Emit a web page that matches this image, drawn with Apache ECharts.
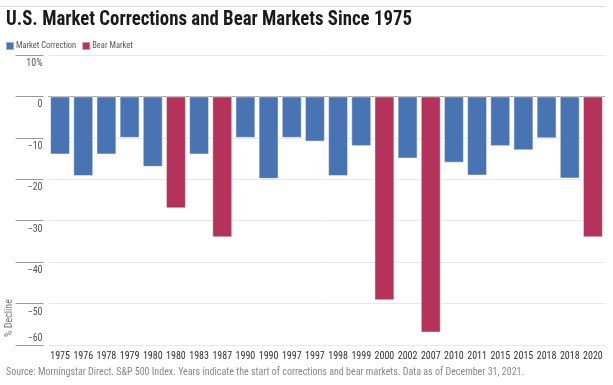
<!DOCTYPE html>
<html>
<head>
<meta charset="utf-8">
<script src="https://cdn.jsdelivr.net/npm/echarts@6/dist/echarts.min.js"></script>
<style>
html,body{margin:0;padding:0;background:#fff;}
#c{width:613px;height:385px;}
</style>
</head>
<body>
<div id="c"></div>
<script>
const categories = ['1975','1976','1978','1979','1980','1980','1983','1987','1990','1990','1997','1997','1998','1999','2000','2002','2007','2010','2011','2015','2015','2018','2018','2020'];
const correctionValues = [-14.0, -19.2, -14.0, -10.0, -17.0, null, -14.0, null, -10.0, -19.9, -10.0, -10.9, -19.2, -12.0, null, -15.0, null, -16.0, -19.1, -12.0, -13.0, -10.1, -19.8, null];
const bearValues = [null, null, null, null, null, -27.0, null, -34.0, null, null, null, null, null, null, -49.2, null, -57.0, null, null, null, null, null, null, -34.0];
const yTicks = [10, 0, -10, -20, -30, -40, -50, -60];
const seriesNames = ['Market Correction', 'Bear Market'];

const FONT = '"Roboto Condensed", "Liberation Sans", sans-serif';
const chart = echarts.init(document.getElementById('c'), null, {renderer: 'canvas'});

function fmtTick(v) {
  let s;
  if (v === 10) s = '10%';
  else if (v < 0) s = '\u2212' + Math.abs(v);
  else s = String(v);
  return v === yTicks[yTicks.length - 1] ? '{up|' + s + '}' : '{dn|' + s + '}';
}

chart.setOption({
  animation: false,
  backgroundColor: '#fff',
  legend: {
    left: 5, top: 41, padding: 0,
    itemWidth: 8, itemHeight: 8, itemGap: 5,
    icon: 'rect',
    textStyle: {fontFamily: FONT, fontSize: 8.5, color: '#555', padding: [0, 0, 0, -3]},
    data: seriesNames
  },
  grid: {left: 48.5, right: 8.5, top: 55, bottom: 40},
  xAxis: {
    type: 'category',
    data: categories,
    axisLine: {lineStyle: {color: '#aaa', width: 1}},
    axisTick: {show: false},
    axisLabel: {interval: 0, fontFamily: FONT, fontSize: 10, color: '#333', margin: 6}
  },
  yAxis: {
    type: 'value',
    min: -60, max: 10, interval: 10,
    offset: 5,
    axisLine: {show: false},
    axisTick: {show: true, length: 28, lineStyle: {color: '#999', width: 1}},
    splitLine: {lineStyle: {color: '#e8e8e8', width: 1}},
    axisLabel: {
      margin: 1,
      formatter: fmtTick,
      fontFamily: FONT, fontSize: 10, color: '#555',
      rich: {
        dn: {fontFamily: FONT, fontSize: 10, color: '#555', padding: [17, 0, 0, 0]},
        up: {fontFamily: FONT, fontSize: 10, color: '#555', padding: [0, 0, 14, 0]}
      }
    }
  },
  series: [
    {
      name: seriesNames[0], type: 'bar', stack: 'all',
      data: correctionValues,
      barCategoryGap: '14%',
      itemStyle: {color: '#4874b4', borderColor: 'rgba(255,255,255,0.45)', borderWidth: 1}
    },
    {
      name: seriesNames[1], type: 'bar', stack: 'all',
      data: bearValues,
      barCategoryGap: '14%',
      itemStyle: {color: '#b5325a', borderColor: 'rgba(255,255,255,0.45)', borderWidth: 1}
    }
  ],
  graphic: [
    {type: 'line', shape: {x1: 0, y1: 6.5, x2: 605, y2: 6.5}, style: {stroke: '#ddd', lineWidth: 1}, silent: true},
    {type: 'text', x: 6, y: 20, scaleX: 0.94,
     style: {text: 'U.S. Market Corrections and Bear Markets Since 1975', fontFamily: FONT, fontSize: 20, fontWeight: 'bold',
             fill: '#1a1a1a', align: 'left', verticalAlign: 'middle'}},
    {type: 'text', x: 9, y: 318, rotation: Math.PI / 2,
     style: {text: '% Decline', fontFamily: FONT, fontSize: 10, fill: '#777', align: 'center', verticalAlign: 'middle'}},
    {type: 'text', x: 6, y: 372,
     style: {text: 'Source: Morningstar Direct. S&P 500 Index. Years indicate the start of corrections and bear markets. Data as of December 31, 2021.',
             fontFamily: FONT, fontSize: 10, fill: '#888', align: 'left', verticalAlign: 'middle'}}
  ]
});
</script>
</body>
</html>
